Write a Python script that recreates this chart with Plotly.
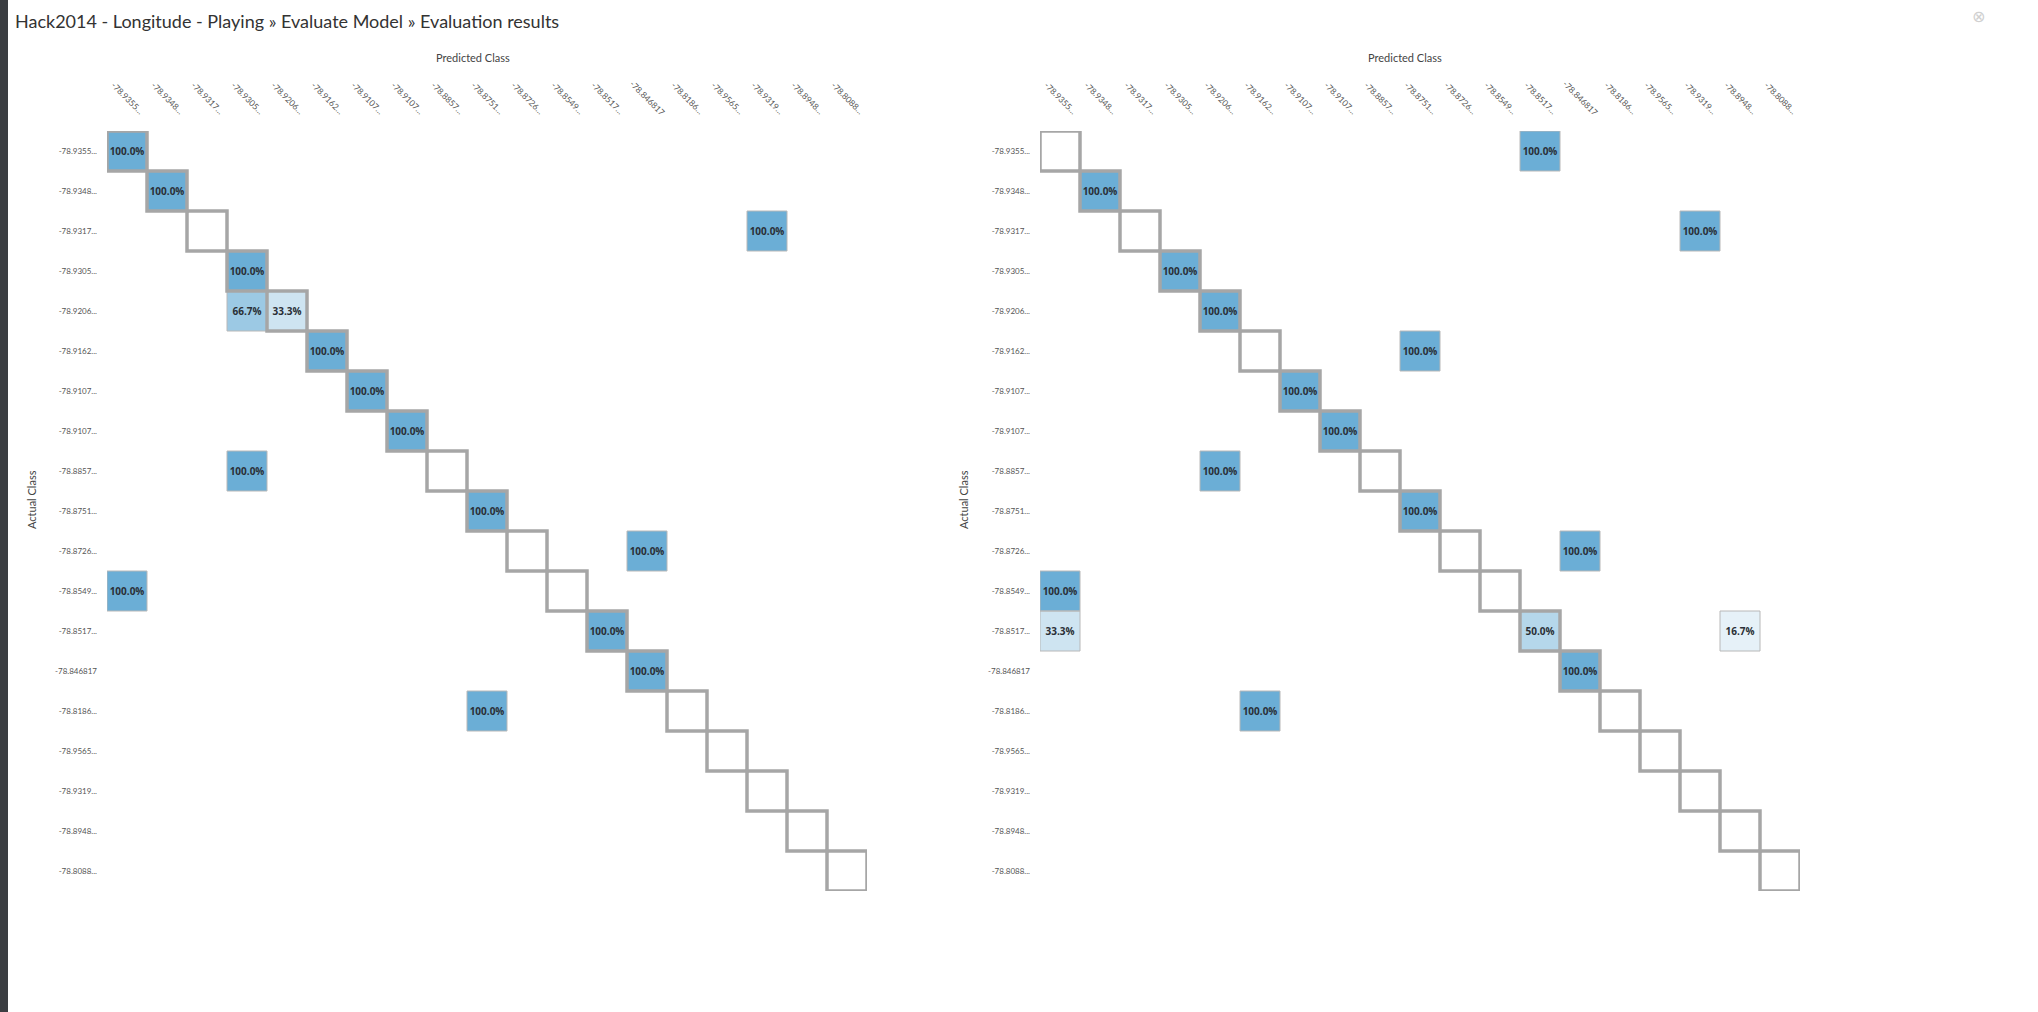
import numpy as np
import plotly.graph_objects as go

W, H = 2038, 1012

class_labels = ["-78.9355...", "-78.9348...", "-78.9317...", "-78.9305...", "-78.9206...",
                "-78.9162...", "-78.9107...", "-78.9107...", "-78.8857...", "-78.8751...",
                "-78.8726...", "-78.8549...", "-78.8517...", "-78.846817", "-78.8186...",
                "-78.9565...", "-78.9319...", "-78.8948...", "-78.8088..."]

# left model: (actual row, predicted col, percent)
left_rows = [0, 1, 2, 3, 4, 4, 5, 6, 7, 8, 9, 10, 11, 12, 13, 14]
left_cols = [0, 1, 16, 3, 3, 4, 5, 6, 7, 3, 9, 13, 0, 12, 13, 9]
left_vals = [100.0, 100.0, 100.0, 100.0, 66.7, 33.3, 100.0, 100.0, 100.0, 100.0, 100.0,
             100.0, 100.0, 100.0, 100.0, 100.0]

# right model
right_rows = [0, 1, 2, 3, 4, 5, 6, 7, 8, 9, 10, 11, 12, 12, 12, 13, 14]
right_cols = [12, 1, 16, 3, 4, 9, 6, 7, 4, 9, 13, 0, 0, 12, 17, 13, 5]
right_vals = [100.0, 100.0, 100.0, 100.0, 100.0, 100.0, 100.0, 100.0, 100.0, 100.0,
              100.0, 100.0, 33.3, 50.0, 16.7, 100.0, 100.0]

n = len(class_labels)
fig = go.Figure()

def px_x(v):
    return v / W

def px_y(v):
    return 1 - v / H

LABEL_FONT = "Lato"

panels = [
    dict(rows=left_rows, cols=left_cols, vals=left_vals, xa="x", ya="y",
         dom=(107, 867), title_x=473, act_x=31),
    dict(rows=right_rows, cols=right_cols, vals=right_vals, xa="x2", ya="y2",
         dom=(1040, 1800), title_x=1405, act_x=963),
]

annotations = []
shapes = []

for p in panels:
    z = np.full((n, n), np.nan)
    txt = [["" for _ in range(n)] for _ in range(n)]
    for r, c, v in zip(p["rows"], p["cols"], p["vals"]):
        z[r, c] = v
        txt[r][c] = f"{v:.1f}%"
    fig.add_trace(go.Heatmap(
        z=z, x=list(range(n)), y=list(range(n)), text=txt, texttemplate="%{text}",
        textfont=dict(size=10, color="#2a2f36", family="Open Sans", weight="bold"),
        colorscale=[[0, "#ffffff"], [1, "#6baed6"]], zmin=0, zmax=100,
        showscale=False, hoverongaps=False, xaxis=p["xa"], yaxis=p["ya"]))
    xr = p["xa"]
    yr = p["ya"]
    # thin borders on filled cells
    for r, c in zip(p["rows"], p["cols"]):
        shapes.append(dict(type="rect", xref=xr, yref=yr, x0=c - 0.5, x1=c + 0.5,
                           y0=r - 0.5, y1=r + 0.5, line=dict(color="#b8b8b8", width=1),
                           layer="above"))
    # diagonal thick borders
    for i in range(n):
        shapes.append(dict(type="rect", xref=xr, yref=yr, x0=i - 0.5, x1=i + 0.5,
                           y0=i - 0.5, y1=i + 0.5, line=dict(color="#a6a6a6", width=3.5),
                           layer="above"))
    # column labels (rotated)
    for i, lab in enumerate(class_labels):
        annotations.append(dict(x=i, xref=xr, y=px_y(98), yref="paper", text=lab,
                                textangle=45, showarrow=False,
                                xanchor="center", yanchor="middle",
                                font=dict(size=8.5, color="#555", family=LABEL_FONT)))
    annotations.append(dict(x=px_x(p["title_x"]), xref="paper", y=px_y(57), yref="paper",
                            text="Predicted Class", showarrow=False,
                            xanchor="center", yanchor="middle",
                            font=dict(size=11, color="#444", family=LABEL_FONT)))
    annotations.append(dict(x=px_x(p["act_x"]), xref="paper", y=px_y(500), yref="paper",
                            text="Actual Class", textangle=-90, showarrow=False,
                            xanchor="center", yanchor="middle",
                            font=dict(size=11, color="#444", family=LABEL_FONT)))

annotations.append(dict(x=px_x(13), xref="paper", y=px_y(21), yref="paper",
                        xanchor="left", yanchor="middle", showarrow=False,
                        text="Hack2014 - Longitude - Playing » Evaluate Model » Evaluation results",
                        font=dict(size=18, color="#333", family="Lato")))
annotations.append(dict(x=px_x(1978), xref="paper", y=px_y(16), yref="paper",
                        showarrow=False, text="⊗", xanchor="center", yanchor="middle",
                        font=dict(size=16, color="#d0d0d0", family="DejaVu Sans")))

shapes.append(dict(type="rect", xref="paper", yref="paper", x0=0, x1=px_x(8), y0=0, y1=1,
                   fillcolor="#3b3e42", line=dict(width=0), layer="above"))

axis_common = dict(showgrid=False, zeroline=False, showline=False)
yaxis_common = dict(axis_common, tickmode="array", tickvals=list(range(n)),
                    ticktext=class_labels, range=[n - 0.5, -0.5],
                    tickfont=dict(size=8, color="#555", family=LABEL_FONT),
                    ticks="", ticklabelstandoff=9)
xaxis_common = dict(axis_common, range=[-0.5, n - 0.5], showticklabels=False, ticks="")

fig.update_layout(
    width=W, height=H,
    margin=dict(l=0, r=0, t=0, b=0),
    paper_bgcolor="white", plot_bgcolor="white",
    xaxis=dict(xaxis_common, domain=[px_x(107), px_x(867)], anchor="y"),
    yaxis=dict(yaxis_common, domain=[px_y(891), px_y(131)], anchor="x"),
    xaxis2=dict(xaxis_common, domain=[px_x(1040), px_x(1800)], anchor="y2"),
    yaxis2=dict(yaxis_common, domain=[px_y(891), px_y(131)], anchor="x2"),
    annotations=annotations,
    shapes=shapes,
    showlegend=False,
)

fig.write_html("out.html", config={"displayModeBar": False},
               post_script="document.body.style.margin='0';document.body.style.overflow='hidden';")
